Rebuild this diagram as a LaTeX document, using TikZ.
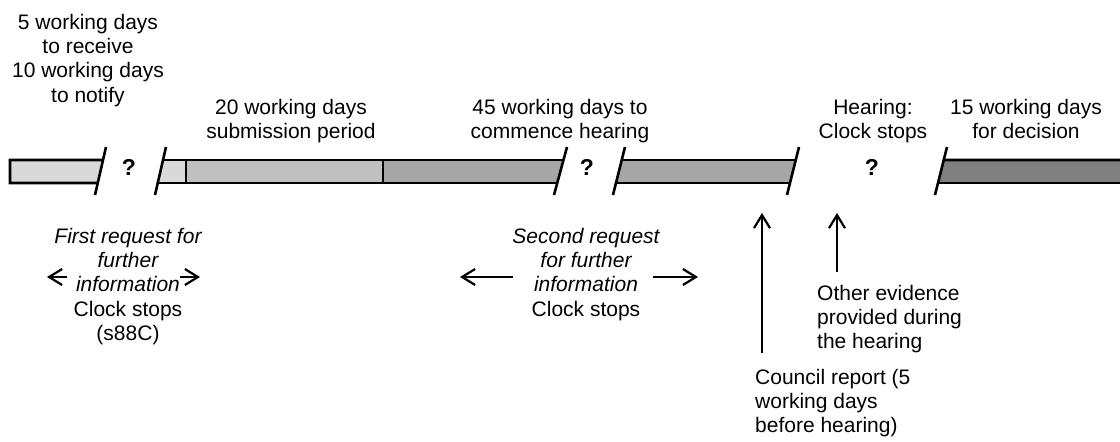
\documentclass[tikz,border=0pt]{standalone}
\usepackage{fontspec}
\setmainfont{Liberation Sans}
\usetikzlibrary{arrows.meta,calc}
\definecolor{segLight}{HTML}{D9D9D9}
\definecolor{segMid}{HTML}{C0C0C0}
\definecolor{segGrey}{HTML}{A6A6A6}
\definecolor{segDark}{HTML}{808080}
\newcommand\labfont{\fontsize{21}{24.3}\selectfont}
\newcommand\qfont{\fontsize{23}{26}\selectfont\bfseries}
\begin{document}
\begin{tikzpicture}[x=1pt,y=-1pt,
  lbl/.style={inner sep=0pt, align=center, font=\labfont, anchor=north},
  lblL/.style={inner sep=0pt, align=left, font=\labfont, anchor=north west},
  qmark/.style={inner sep=0pt, font=\qfont},
  edge/.style={line width=2.8pt},
  slashline/.style={draw=black, line width=2.6pt},
  arr/.style={draw=black, line width=2.2pt, -{Straight Barb[length=13pt,width=16pt,line width=2.2pt]}}
]
\useasboundingbox (0,0) rectangle (1120,442);

% slash end points
\coordinate (s1b) at (95,195);  \coordinate (s1t) at (106,147);
\coordinate (s2b) at (155,195); \coordinate (s2t) at (166,147);
\coordinate (s3b) at (554,195); \coordinate (s3t) at (567,147);
\coordinate (s4b) at (613,195); \coordinate (s4t) at (625,147);
\coordinate (s5b) at (787,195); \coordinate (s5t) at (799,147);
\coordinate (s6b) at (935,195); \coordinate (s6t) at (947,147);

% bar segments
\fill[segLight] (10,160) -- ($(s1b)!0.729!(s1t)$) -- ($(s1b)!0.25!(s1t)$) -- (10,183) -- cycle;
\draw[edge] ($(s1b)!0.729!(s1t)$) -- (10,160) -- (10,183) -- ($(s1b)!0.25!(s1t)$);
\fill[segLight] ($(s2b)!0.729!(s2t)$) -- (186,160) -- (186,183) -- ($(s2b)!0.25!(s2t)$) -- cycle;
\fill[segMid] (186,160) rectangle (383,183);
\fill[segGrey] (383,160) -- ($(s3b)!0.729!(s3t)$) -- ($(s3b)!0.25!(s3t)$) -- (383,183) -- cycle;
\draw[edge] ($(s2b)!0.729!(s2t)$) -- ($(s3b)!0.729!(s3t)$);
\draw[edge] ($(s2b)!0.25!(s2t)$) -- ($(s3b)!0.25!(s3t)$);
\draw[edge] (186,160) -- (186,183);
\draw[edge] (383,160) -- (383,183);
\fill[segGrey] ($(s4b)!0.729!(s4t)$) -- ($(s5b)!0.729!(s5t)$) -- ($(s5b)!0.25!(s5t)$) -- ($(s4b)!0.25!(s4t)$) -- cycle;
\draw[edge] ($(s4b)!0.729!(s4t)$) -- ($(s5b)!0.729!(s5t)$);
\draw[edge] ($(s4b)!0.25!(s4t)$) -- ($(s5b)!0.25!(s5t)$);
\fill[segDark] ($(s6b)!0.729!(s6t)$) -- (1125,160) -- (1125,183) -- ($(s6b)!0.25!(s6t)$) -- cycle;
\draw[edge] ($(s6b)!0.729!(s6t)$) -- (1125,160);
\draw[edge] ($(s6b)!0.25!(s6t)$) -- (1125,183);

% slashes
\foreach \i in {1,...,6} { \draw[slashline] (s\i b) -- (s\i t); }

% question marks
\node[qmark] (q1) at (129,167) {?};
\node[qmark] (q2) at (587,167) {?};
\node[qmark] (q3) at (872,167) {?};

% top labels
\node[lbl] (t1) at (88,12) {\strut 5 working days\\to receive\\10 working days\\to notify};
\node[lbl] (t2) at (291,97) {\strut 20 working days\\submission period};
\node[lbl] (t3) at (560,97) {\strut 45 working days to\\commence hearing};
\node[lbl] (t4) at (873,97) {\strut Hearing:\\Clock stops};
\node[lbl] (t5) at (1026,97) {\strut 15 working days\\for decision};

% bottom labels
\node[lbl] (req1) at (128,226) {\strut\itshape First request for\\\itshape further\\\itshape information\\Clock stops\\(s88C)};
\node[lbl] (req2) at (586,226) {\strut\itshape Second request\\\itshape for further\\\itshape information\\Clock stops};
\node[lblL] (other) at (817,283) {\strut Other evidence\\provided during\\the hearing};
\node[lblL] (council) at (755,367) {\strut Council report (5\\working days\\before hearing)};

% arrow end points
\coordinate (a1s) at (67,277);  \coordinate (a1e) at (47,277);
\coordinate (a2s) at (180,277); \coordinate (a2e) at (200,277);
\coordinate (b1s) at (513,277); \coordinate (b1e) at (460,277);
\coordinate (b2s) at (653,277); \coordinate (b2e) at (698,277);
\coordinate (cs) at (762,353);  \coordinate (ce) at (762,213);
\coordinate (os) at (837,272);  \coordinate (oe) at (837,213);

\draw[arr] (a1s) -- (a1e);
\draw[arr] (a2s) -- (a2e);
\draw[arr] (b1s) -- (b1e);
\draw[arr] (b2s) -- (b2e);
\draw[arr] (cs) -- (ce);
\draw[arr] (os) -- (oe);
\end{tikzpicture}
\end{document}
